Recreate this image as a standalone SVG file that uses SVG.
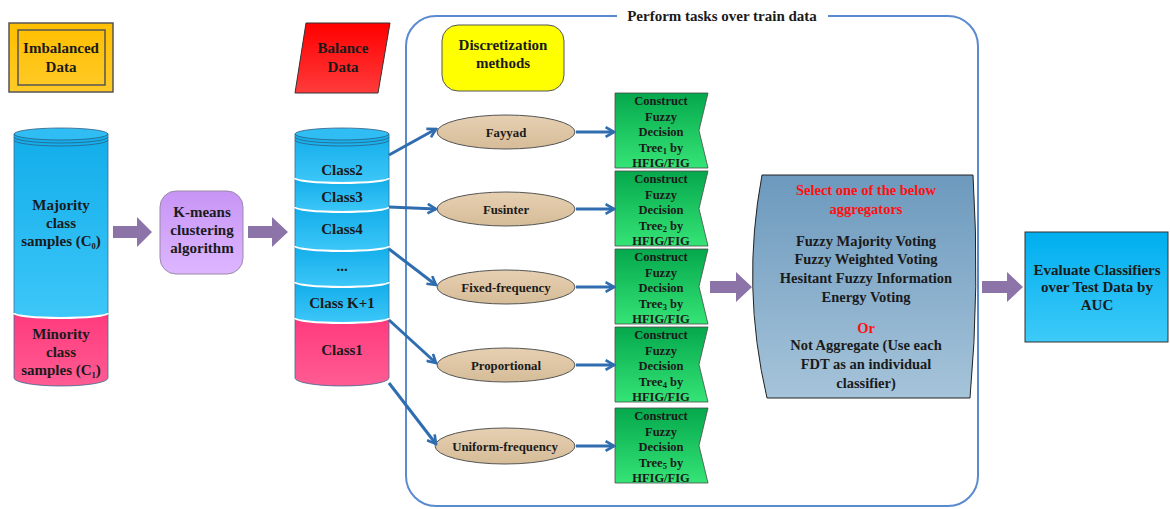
<svg xmlns="http://www.w3.org/2000/svg" width="1170" height="509" viewBox="0 0 1170 509" font-family="'Liberation Serif', 'DejaVu Serif', serif">
<defs>
<linearGradient id="gBlue" x1="0" y1="0" x2="0" y2="1"><stop offset="0" stop-color="#12ADEA"/><stop offset="1" stop-color="#3DC7F8"/></linearGradient>
<linearGradient id="gPink" x1="0" y1="0" x2="0" y2="1"><stop offset="0" stop-color="#FF3A7C"/><stop offset="1" stop-color="#FF5C93"/></linearGradient>
<linearGradient id="gRed" x1="0" y1="0" x2="0" y2="1"><stop offset="0" stop-color="#FF0000"/><stop offset="1" stop-color="#FF3B3B"/></linearGradient>
<linearGradient id="gOrange" x1="0" y1="0" x2="0" y2="1"><stop offset="0" stop-color="#FFBF00"/><stop offset="1" stop-color="#FFCA28"/></linearGradient>
<linearGradient id="gPurple" x1="0" y1="0" x2="0" y2="1"><stop offset="0" stop-color="#C795F5"/><stop offset="1" stop-color="#DDB6FF"/></linearGradient>
<linearGradient id="gTan" x1="0" y1="0" x2="0" y2="1"><stop offset="0" stop-color="#E6D0B2"/><stop offset="1" stop-color="#D6BC98"/></linearGradient>
<linearGradient id="gGreen" x1="0" y1="0" x2="0" y2="1"><stop offset="0" stop-color="#05A84C"/><stop offset="1" stop-color="#35E476"/></linearGradient>
<linearGradient id="gAgg" x1="0" y1="0" x2="0" y2="1"><stop offset="0" stop-color="#6C99BD"/><stop offset="1" stop-color="#A6C4DA"/></linearGradient>
<linearGradient id="gEval" x1="0" y1="0" x2="0" y2="1"><stop offset="0" stop-color="#00AEEF"/><stop offset="1" stop-color="#3DCAF8"/></linearGradient>
<marker id="ah" viewBox="0 0 10 10" refX="8.5" refY="5" markerWidth="4" markerHeight="4" orient="auto">
<path d="M1.5,1 L8.5,5 L1.5,9" fill="none" stroke="#2F6DAF" stroke-width="2.2"/>
</marker>
<path id="gshape" d="M0,0 L93,0 L84,37.5 L93,75 L0,75 Z"/>
</defs>
<style>
text{font-family:'Liberation Serif','DejaVu Serif',serif;font-weight:700;fill:#1a1a1a;text-anchor:middle}
.t15{font-size:15px}
.t14{font-size:14.5px}
.t13{font-size:12.8px}
.t12{font-size:12.5px}
.red{fill:#FF1010}
.sub{font-size:8.5px}
.seg{stroke:#3A6F94;stroke-width:0.8}
.sep{fill:none;stroke:#ffffff;stroke-width:2}
.ring{fill:none;stroke:#2B5F86;stroke-width:0.8}
.blue{fill:none;stroke:#2F6DAF;stroke-width:3;marker-end:url(#ah)}
.parr{fill:#8C74A8}
.ell{fill:url(#gTan);stroke:#555;stroke-width:1}
.green{fill:url(#gGreen);stroke:#4a4a4a;stroke-width:0.8}
</style>

<g id="imbalanced-data">
<rect x="9" y="23" width="104" height="69" fill="url(#gOrange)" stroke="#555" stroke-width="1.5"/>
<rect x="18" y="30" width="87" height="55" fill="none" stroke="#555" stroke-width="1.5"/>
<text class="t15" x="61" y="53">Imbalanced</text>
<text class="t15" x="61" y="72">Data</text>
</g>

<g id="balance-data">
<polygon points="306,23 390,23 378,93 295,93" fill="url(#gRed)" stroke="#333" stroke-width="1"/>
<text class="t15" x="343" y="53">Balance</text>
<text class="t15" x="343" y="72">Data</text>
</g>

<g id="original-data-cylinder">
<path class="seg" d="M14,313 L14,378 A47,8 0 0 0 108,378 L108,313 Z" fill="url(#gPink)"/>
<path class="seg" d="M14,134 L14,313 A47,5 0 0 0 108,313 L108,134 Z" fill="url(#gBlue)"/>
<path class="sep" d="M14,313 A47,5 0 0 0 108,313"/>
<ellipse cx="61" cy="134" rx="47" ry="6" fill="#2FBDF3" stroke="#2B5F86" stroke-width="0.8"/>
<path class="ring" d="M14,137 A47,6 0 0 0 108,137"/>
<path class="ring" d="M14,140 A47,6 0 0 0 108,140"/>
<text class="t15" x="61" y="210">Majority</text>
<text class="t15" x="61" y="228">class</text>
<text class="t15" x="61" y="246">samples (C<tspan class="sub" dy="3">0</tspan><tspan dy="-3">)</tspan></text>
<text class="t15" x="61" y="339">Minority</text>
<text class="t15" x="61" y="357">class</text>
<text class="t15" x="61" y="375">samples (C<tspan class="sub" dy="3">1</tspan><tspan dy="-3">)</tspan></text>
</g>

<g id="kmeans">
<rect x="160" y="191" width="83" height="83" rx="16" fill="url(#gPurple)" stroke="#9b8aa8" stroke-width="1"/>
<text class="t15" x="202" y="217">K-means</text>
<text class="t15" x="202" y="235">clustering</text>
<text class="t15" x="202" y="253">algorithm</text>
</g>

<g id="balanced-cylinder">
<path class="seg" d="M295,318 L295,378 A47,8 0 0 0 389,378 L389,318 Z" fill="url(#gPink)"/>
<path class="seg" d="M295,282 L295,318 A47,5 0 0 0 389,318 L389,282 Z" fill="url(#gBlue)"/>
<path class="seg" d="M295,246 L295,282 A47,5 0 0 0 389,282 L389,246 Z" fill="url(#gBlue)"/>
<path class="seg" d="M295,207 L295,246 A47,5 0 0 0 389,246 L389,207 Z" fill="url(#gBlue)"/>
<path class="seg" d="M295,178 L295,207 A47,5 0 0 0 389,207 L389,178 Z" fill="url(#gBlue)"/>
<path class="seg" d="M295,134 L295,178 A47,5 0 0 0 389,178 L389,134 Z" fill="url(#gBlue)"/>
<path class="sep" d="M295,178 A47,5 0 0 0 389,178"/>
<path class="sep" d="M295,207 A47,5 0 0 0 389,207"/>
<path class="sep" d="M295,246 A47,5 0 0 0 389,246"/>
<path class="sep" d="M295,282 A47,5 0 0 0 389,282"/>
<path class="sep" d="M295,318 A47,5 0 0 0 389,318"/>
<ellipse cx="342" cy="134" rx="47" ry="6" fill="#2FBDF3" stroke="#2B5F86" stroke-width="0.8"/>
<path class="ring" d="M295,137 A47,6 0 0 0 389,137"/>
<path class="ring" d="M295,140 A47,6 0 0 0 389,140"/>
<text class="t15" x="342" y="175">Class2</text>
<text class="t15" x="342" y="202">Class3</text>
<text class="t15" x="342" y="234">Class4</text>
<text class="t15" x="342" y="271">...</text>
<text class="t15" x="342" y="308">Class K+1</text>
<text class="t15" x="342" y="355">Class1</text>
</g>

<g id="train-container">
<path d="M617,16 L436,16 A30,30 0 0 0 406,46 L406,476 A30,30 0 0 0 436,506 L948,506 A30,30 0 0 0 978,476 L978,46 A30,30 0 0 0 948,16 L828,16" fill="none" stroke="#5A8AD0" stroke-width="2"/>
<text class="t15" x="722" y="21">Perform tasks over train data</text>
</g>

<g id="discretization">
<rect x="442" y="25" width="122" height="66" rx="16" fill="#FFFF00" stroke="#555" stroke-width="1"/>
<text class="t15" x="503" y="50">Discretization</text>
<text class="t15" x="503" y="68">methods</text>
</g>

<g id="fayyad"><ellipse class="ell" cx="506" cy="132" rx="69" ry="17"/><text class="t13" x="506" y="137">Fayyad</text></g>
<g id="fusinter"><ellipse class="ell" cx="506" cy="209" rx="69" ry="17"/><text class="t13" x="506" y="214">Fusinter</text></g>
<g id="fixed-frequency"><ellipse class="ell" cx="506" cy="287" rx="69" ry="17"/><text class="t13" x="506" y="292">Fixed-frequency</text></g>
<g id="proportional"><ellipse class="ell" cx="506" cy="365" rx="69" ry="17"/><text class="t13" x="506" y="370">Proportional</text></g>
<g id="uniform-frequency"><ellipse class="ell" cx="505" cy="446" rx="70" ry="18"/><text class="t13" x="505" y="451">Uniform-frequency</text></g>

<g id="fdt1">
<use href="#gshape" x="615" y="93" class="green"/>
<text class="t12" x="661" y="105">Construct</text><text class="t12" x="661" y="120.5">Fuzzy</text><text class="t12" x="661" y="136">Decision</text>
<text class="t12" x="661" y="151.5">Tree<tspan class="sub" dy="2">1</tspan><tspan dy="-2"> by</tspan></text><text class="t12" x="661" y="167">HFIG/FIG</text>
</g>
<g id="fdt2">
<use href="#gshape" x="615" y="171" class="green"/>
<text class="t12" x="661" y="183">Construct</text><text class="t12" x="661" y="198.5">Fuzzy</text><text class="t12" x="661" y="214">Decision</text>
<text class="t12" x="661" y="229.5">Tree<tspan class="sub" dy="2">2</tspan><tspan dy="-2"> by</tspan></text><text class="t12" x="661" y="245">HFIG/FIG</text>
</g>
<g id="fdt3">
<use href="#gshape" x="615" y="249" class="green"/>
<text class="t12" x="661" y="261">Construct</text><text class="t12" x="661" y="276.5">Fuzzy</text><text class="t12" x="661" y="292">Decision</text>
<text class="t12" x="661" y="307.5">Tree<tspan class="sub" dy="2">3</tspan><tspan dy="-2"> by</tspan></text><text class="t12" x="661" y="323">HFIG/FIG</text>
</g>
<g id="fdt4">
<use href="#gshape" x="615" y="327" class="green"/>
<text class="t12" x="661" y="339">Construct</text><text class="t12" x="661" y="354.5">Fuzzy</text><text class="t12" x="661" y="370">Decision</text>
<text class="t12" x="661" y="385.5">Tree<tspan class="sub" dy="2">4</tspan><tspan dy="-2"> by</tspan></text><text class="t12" x="661" y="401">HFIG/FIG</text>
</g>
<g id="fdt5">
<use href="#gshape" x="615" y="408" class="green"/>
<text class="t12" x="661" y="420">Construct</text><text class="t12" x="661" y="435.5">Fuzzy</text><text class="t12" x="661" y="451">Decision</text>
<text class="t12" x="661" y="466.5">Tree<tspan class="sub" dy="2">5</tspan><tspan dy="-2"> by</tspan></text><text class="t12" x="661" y="482">HFIG/FIG</text>
</g>

<g id="aggregators">
<path d="M762,175 L973,175 Q980,287 970,398 L767,398 Q741,287 762,175 Z" fill="url(#gAgg)" stroke="#222" stroke-width="1"/>
<text class="t14 red" x="866" y="195">Select one of the below</text>
<text class="t14 red" x="866" y="214">aggregators</text>
<text class="t14" x="866" y="246">Fuzzy Majority Voting</text>
<text class="t14" x="866" y="264">Fuzzy Weighted Voting</text>
<text class="t14" x="866" y="283">Hesitant Fuzzy Information</text>
<text class="t14" x="866" y="302">Energy Voting</text>
<text class="t14 red" x="866" y="333">Or</text>
<text class="t14" x="866" y="350">Not Aggregate (Use each</text>
<text class="t14" x="866" y="369">FDT as an individual</text>
<text class="t14" x="866" y="388">classifier)</text>
</g>

<g id="evaluate">
<rect x="1025" y="232" width="143" height="110" fill="url(#gEval)" stroke="#333" stroke-width="1"/>
<text class="t15" x="1097" y="275">Evaluate Classifiers</text>
<text class="t15" x="1097" y="292">over Test Data by</text>
<text class="t15" x="1097" y="310">AUC</text>
</g>

<g id="connectors">
<polygon class="parr" points="113,226 137,226 137,217 152,232 137,247 137,238 113,238"/>
<polygon class="parr" points="248,226 272,226 272,217 288,232 272,247 272,238 248,238"/>
<polygon class="parr" points="710,281 736,281 736,272 752,287 736,302 736,293 710,293"/>
<polygon class="parr" points="982,281 1007,281 1007,272 1023,287 1007,302 1007,293 982,293"/>
<path class="blue" d="M389,155 L436,129"/>
<path class="blue" d="M389,207 L436,209"/>
<path class="blue" d="M389,249 L436,285"/>
<path class="blue" d="M389,320 L436,363"/>
<path class="blue" d="M389,383 L436,444"/>
<path class="blue" d="M576,132 L614,132"/>
<path class="blue" d="M576,209 L614,209"/>
<path class="blue" d="M576,287 L614,287"/>
<path class="blue" d="M576,365 L614,365"/>
<path class="blue" d="M576,446 L614,446"/>
</g>
</svg>
